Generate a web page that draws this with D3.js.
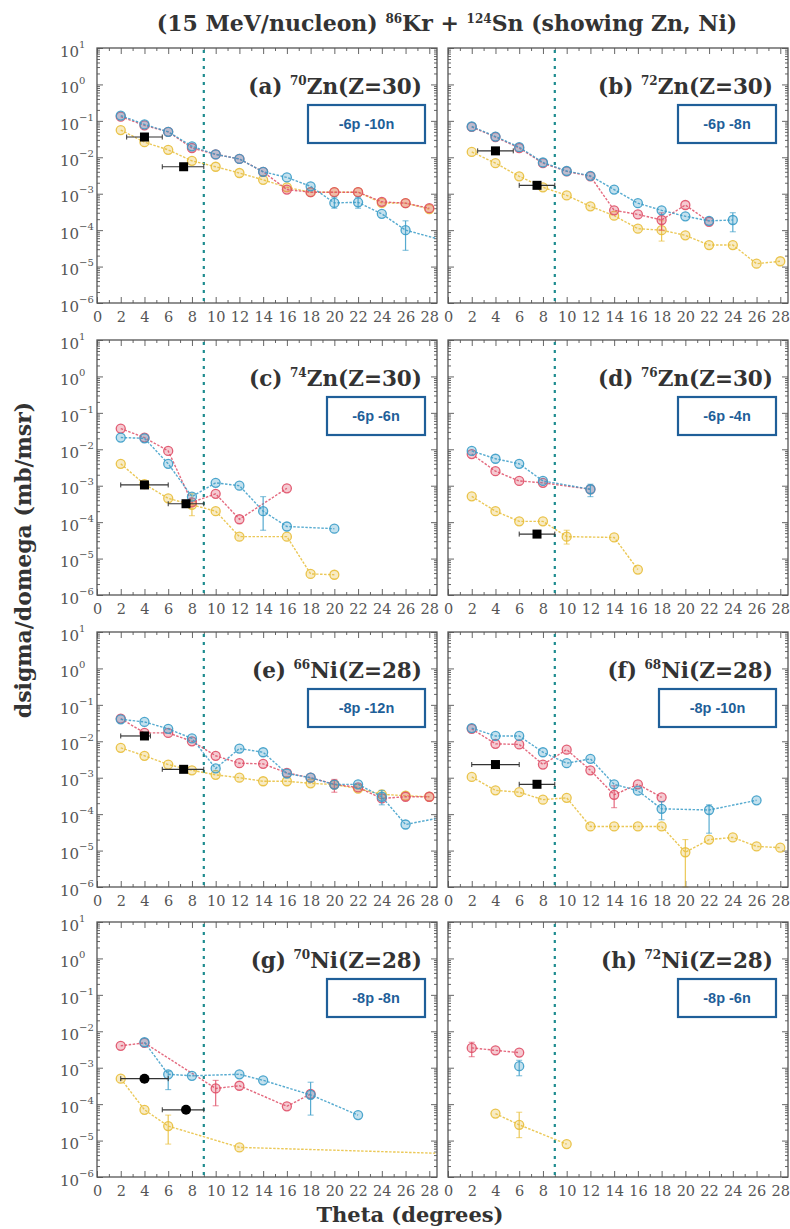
<!DOCTYPE html>
<html><head><meta charset="utf-8">
<script src="https://cdn.jsdelivr.net/npm/d3@7"></script>
<style>body{margin:0;background:#fff}svg{display:block}</style>
</head><body><svg id="chart" width="790" height="1229"></svg>
<script>
// ---------------- data ----------------
const panelLetters = ["a","b","c","d","e","f","g","h"];
const massNumbers = ["70","72","74","76","66","68","70","72"];
const elements = ["Zn","Zn","Zn","Zn","Ni","Ni","Ni","Ni"];
const charges = [30,30,30,30,28,28,28,28];
const reactionLabels = ["-6p -10n","-6p -8n","-6p -6n","-6p -4n","-8p -12n","-8p -10n","-8p -8n","-8p -6n"];
const xTickValues = [0,2,4,6,8,10,12,14,16,18,20,22,24,26,28];
const yTickExponents = [1,0,-1,-2,-3,-4,-5,-6];
const gratingAngle = 9;

// [theta, dsigma/domega]
const redA = [[2,0.13],[4,0.075],[6,0.05],[8,0.018],[10,0.012],[12,0.009],[14,0.004],[16,0.0013],[18,0.0011],[20,0.0011],[22,0.0011],[24,6e-4],[26,5.5e-4],[28,4e-4]];
const blueA = [[2,0.14],[4,0.08],[6,0.05],[8,0.02],[10,0.012],[12,0.009],[14,0.004],[16,0.0028],[18,0.0016],[20,5.6e-4],[22,5.8e-4],[24,2.8e-4],[26,1e-4],[28.5,6e-5]];
const yellowA = [[2,0.056],[4,0.026],[6,0.016],[8,0.008],[10,0.0055],[12,0.0037],[14,0.0024],[16,0.0015],[18,0.0011],[20,0.0011],[22,0.0011],[24,5.6e-4],[26,5.5e-4],[28,3.8e-4]];
const expA = [[4,0.036,2.5,5.5],[7.3,0.0055,5.5,9]];
const errA = [["blue",26,2.8e-5,1.8e-4],["blue",20,4e-4,8e-4],["blue",22,4e-4,8e-4]];

const redB = [[2,0.068],[4,0.036],[6,0.018],[8,0.0069],[10,0.0041],[12,0.003],[14,3.5e-4],[16,2.7e-4],[18,1.9e-4],[20,4.9e-4],[22,1.7e-4]];
const blueB = [[2,0.07],[4,0.037],[6,0.019],[8,0.0072],[10,0.0042],[12,0.0031],[14,0.0013],[16,5.5e-4],[18,3.5e-4],[20,2.4e-4],[22,1.8e-4],[24,1.9e-4]];
const yellowB = [[2,0.014],[4,0.0069],[6,0.003],[8,0.0015],[10,9e-4],[12,4.5e-4],[14,2.5e-4],[16,1.1e-4],[18,1e-4],[20,7.2e-5],[22,3.9e-5],[24,3.9e-5],[26,1.2e-5],[28,1.4e-5]];
const expB = [[4,0.015,2.5,5.5],[7.5,0.0017,6,9]];
const errB = [["blue",24,9e-5,3e-4],["red",18,1e-4,3e-4],["yellow",18,5e-5,1.8e-4]];

const redC = [[2,0.037],[4,0.021],[6,0.009],[8,3.5e-4],[10,6e-4],[12,1.2e-4],[16,8.5e-4]];
const blueC = [[2,0.021],[4,0.02],[6,0.004],[8,5e-4],[10,1.2e-3],[12,1e-3],[14,2e-4],[16,7.6e-5],[20,6.6e-5]];
const yellowC = [[2,0.004],[4,0.0011],[6,4.5e-4],[8,3e-4],[10,2e-4],[12,4e-5],[16,4e-5],[18,3.8e-6],[20,3.6e-6]];
const expC = [[4,1.05e-3,2,6],[7.5,3.2e-4,6,9]];
const errC = [["blue",14,6e-5,5e-4],["yellow",8,1.5e-4,6e-4]];

const redD = [[2,0.0074],[4,0.0025],[6,0.00135],[8,0.0012],[12,8e-4]];
const blueD = [[2,0.009],[4,0.0055],[6,0.004],[8,0.00135],[12,8e-4]];
const yellowD = [[2,5.1e-4],[4,2e-4],[6,1.05e-4],[8,1.05e-4],[10,4e-5],[14,3.8e-5],[16,5e-6]];
const expD = [[7.5,4.7e-5,6,9]];
const errD = [["blue",12,5e-4,1.1e-3],["yellow",10,2.5e-5,6e-5]];

const redE = [[2,0.042],[4,0.017],[6,0.017],[8,0.01],[10,0.004],[12,0.0025],[14,0.0024],[16,0.00135],[18,0.001],[20,6.6e-4],[22,5.4e-4],[24,2.7e-4],[26,3e-4],[28,3e-4]];
const blueE = [[2,0.04],[4,0.034],[6,0.022],[8,0.012],[10,0.0018],[12,0.0063],[14,0.005],[16,0.0013],[18,0.001],[20,6.5e-4],[22,6.6e-4],[24,3e-4],[26,5.2e-5],[28.5,7.5e-5]];
const yellowE = [[2,0.0066],[4,0.004],[6,0.0023],[8,0.0016],[10,0.0012],[12,0.001],[14,8e-4],[16,8e-4],[18,7e-4],[20,6.5e-4],[22,5e-4],[24,3.5e-4],[26,3.2e-4],[28,3e-4]];
const expE = [[4,0.014,2,4.5],[7.3,0.0017,5.5,9]];
const errE = [["blue",24,1.8e-4,4.5e-4],["red",20,4e-4,9e-4]];

const redF = [[2,0.022],[4,0.0085],[6,0.0082],[8,0.0023],[10,0.0059],[12,0.0016],[14,3.4e-4],[16,6.6e-4],[18,2.9e-4]];
const blueF = [[2,0.023],[4,0.014],[6,0.014],[8,0.005],[10,0.0025],[12,0.0033],[14,6.6e-4],[16,4.4e-4],[18,1.4e-4],[22,1.3e-4],[26,2.4e-4]];
const yellowF = [[2,1.05e-3],[4,4.5e-4],[6,4e-4],[8,2.5e-4],[10,2.8e-4],[12,4.6e-5],[14,4.6e-5],[16,4.6e-5],[18,4.6e-5],[20,9e-6],[22,2e-5],[24,2.3e-5],[26,1.3e-5],[28,1.2e-5]];
const expF = [[4,0.0023,2,6],[7.5,6.6e-4,6,9]];
const errF = [["blue",22,3e-5,1.8e-4],["red",14,1.5e-4,6e-4],["yellow",20,1e-6,2e-5],["blue",18,7e-5,2.2e-4]];

const redG = [[2,0.004],[4,0.0048],[10,2.7e-4],[12,3.2e-4],[16,8.7e-5],[18,1.9e-4]];
const blueG = [[4,0.005],[6,6.6e-4],[8,6e-4],[12,6.6e-4],[14,4.5e-4],[18,1.8e-4],[22,5e-5]];
const yellowG = [[2,5e-4],[4,7e-5],[6,2.5e-5],[12,6.5e-6],[28.5,4.5e-6]];
const expG = [[4,5e-4,2,6],[7.5,7e-5,5.5,9]];
const errG = [["red",10,9e-5,4.5e-4],["blue",18,5e-5,4e-4],["yellow",6,8e-6,5e-5],["blue",6,2.5e-4,8e-4]];

const redH = [[2,0.0035],[4,0.003],[6,0.0026]];
const blueH = [[6,0.0011]];
const yellowH = [[4,5.5e-5],[6,2.7e-5],[10,8e-6]];
const expH = [];
const errH = [["blue",6,6e-4,1.6e-3],["yellow",6,1.2e-5,6e-5],["red",2,2e-3,5e-3]];

const panelData = [
  {red:redA, blue:blueA, yellow:yellowA, exp:expA, err:errA},
  {red:redB, blue:blueB, yellow:yellowB, exp:expB, err:errB},
  {red:redC, blue:blueC, yellow:yellowC, exp:expC, err:errC},
  {red:redD, blue:blueD, yellow:yellowD, exp:expD, err:errD},
  {red:redE, blue:blueE, yellow:yellowE, exp:expE, err:errE},
  {red:redF, blue:blueF, yellow:yellowF, exp:expF, err:errF},
  {red:redG, blue:blueG, yellow:yellowG, exp:expG, err:errG},
  {red:redH, blue:blueH, yellow:yellowH, exp:expH, err:errH}
];

// ---------------- layout ----------------
const colX = [97, 448];
const rowY = [48, 340, 632, 922];
const W = 340, H = 255;
const boxWidths = [117, 98, 98, 98, 117, 117, 98, 98];
const colors = {red:"#df4f67", blue:"#3a9cc8", yellow:"#e8be3a"};
const serif = "'DejaVu Serif', 'Liberation Serif', serif";

const svg = d3.select("#chart");

svg.append("text").attr("x", 447).attr("y", 31).attr("text-anchor","middle")
  .attr("font-family", serif).attr("font-weight","bold").attr("font-size", 22).attr("fill","#333")
  .call(t => {
    t.append("tspan").text("(15 MeV/nucleon) ");
    t.append("tspan").attr("font-size", 12).attr("dy", -8).text("86");
    t.append("tspan").attr("dy", 8).text("Kr + ");
    t.append("tspan").attr("font-size", 12).attr("dy", -8).text("124");
    t.append("tspan").attr("dy", 8).text("Sn (showing Zn, Ni)");
  });

svg.append("text").attr("transform","translate(31,560) rotate(-90)").attr("text-anchor","middle")
  .attr("font-family", serif).attr("font-weight","bold").attr("font-size", 22).attr("fill","#333")
  .text("dsigma/domega (mb/msr)");

svg.append("text").attr("x", 410).attr("y", 1222).attr("text-anchor","middle")
  .attr("font-family", serif).attr("font-weight","bold").attr("font-size", 21).attr("fill","#333")
  .text("Theta (degrees)");

const minorY = [];
for (let e = -6; e < 1; e++) for (let k = 2; k < 10; k++) minorY.push(k * Math.pow(10, e));
const minorX = d3.range(1, 29, 2);

panelData.forEach((pd, i) => {
  const col = i % 2, row = Math.floor(i / 2);
  const g = svg.append("g").attr("transform", `translate(${colX[col]},${rowY[row]})`);
  const x = d3.scaleLinear().domain([0, 28.65]).range([0, W]);
  const y = d3.scaleLog().domain([1e-6, 10]).range([H, 0]);

  g.append("rect").attr("width", W).attr("height", H).attr("fill", "#fff");

  // axes
  const styleAxis = sel => { sel.select(".domain").remove(); sel.selectAll("line").attr("stroke", "#666"); };
  g.append("g").attr("transform", `translate(0,${H})`)
    .call(d3.axisBottom(x).tickValues(xTickValues).tickSize(-6).tickPadding(9).tickFormat(d3.format("d")))
    .call(styleAxis)
    .call(s => s.selectAll("text").attr("font-family", serif).attr("font-size", 14.5).attr("fill", "#555"));
  g.append("g").attr("transform", `translate(0,${H})`)
    .call(d3.axisBottom(x).tickValues(minorX).tickSize(-3).tickFormat("")).call(styleAxis);
  g.append("g").call(d3.axisTop(x).tickValues(xTickValues).tickSize(-6).tickFormat("")).call(styleAxis);
  g.append("g").call(d3.axisTop(x).tickValues(minorX).tickSize(-3).tickFormat("")).call(styleAxis);

  const decades = yTickExponents.map(e => Math.pow(10, e));
  const left = g.append("g")
    .call(d3.axisLeft(y).tickValues(decades).tickSize(-6).tickPadding(9).tickFormat(col === 0 ? () => "10" : () => ""))
    .call(styleAxis);
  if (col === 0) {
    left.selectAll("text").attr("font-family", serif).attr("font-size", 15).attr("fill", "#555")
      .attr("dy", "0.55em").attr("text-anchor", "start").attr("x", -37)
      .each(function(d) {
        const ex = Math.round(Math.log10(d));
        d3.select(this).append("tspan").attr("font-size", 10).attr("dy", "-0.9em")
          .text(ex < 0 ? "\u2212" + (-ex) : String(ex));
      });
  }
  g.append("g").call(d3.axisLeft(y).tickValues(minorY).tickSize(-3).tickFormat("")).call(styleAxis);
  g.append("g").attr("transform", `translate(${W},0)`)
    .call(d3.axisRight(y).tickValues(decades).tickSize(-6).tickFormat("")).call(styleAxis);
  g.append("g").attr("transform", `translate(${W},0)`)
    .call(d3.axisRight(y).tickValues(minorY).tickSize(-3).tickFormat("")).call(styleAxis);

  // vertical dashed line
  g.append("line").attr("x1", x(gratingAngle)).attr("x2", x(gratingAngle)).attr("y1", 2).attr("y2", H - 2)
    .attr("stroke", "#1e8c8f").attr("stroke-width", 2.2).attr("stroke-dasharray", "3,5");

  // series
  const line = d3.line().x(d => x(d[0])).y(d => y(d[1]));
  ["yellow", "red", "blue"].forEach(key => {
    const data = pd[key];
    const c = colors[key];
    g.append("path").datum(data).attr("d", line).attr("fill", "none")
      .attr("stroke", c).attr("stroke-width", 1.4).attr("stroke-dasharray", "2.5,1.5").attr("stroke-opacity", 0.85);
    pd.err.filter(e => e[0] === key).forEach(e => {
      g.append("line").attr("x1", x(e[1])).attr("x2", x(e[1])).attr("y1", y(e[2])).attr("y2", y(e[3]))
        .attr("stroke", c).attr("stroke-width", 1.2).attr("stroke-opacity", 0.85);
      [e[2], e[3]].forEach(v => g.append("line").attr("x1", x(e[1]) - 3).attr("x2", x(e[1]) + 3)
        .attr("y1", y(v)).attr("y2", y(v)).attr("stroke", c).attr("stroke-width", 1).attr("stroke-opacity", 0.7));
    });
    g.selectAll(null).data(data.filter(d => d[0] <= 28)).enter().append("circle")
      .attr("cx", d => x(d[0])).attr("cy", d => y(d[1])).attr("r", 4.5)
      .attr("fill", c).attr("fill-opacity", 0.3).attr("stroke", c).attr("stroke-width", 1.3).attr("stroke-opacity", 0.9);
  });

  // experimental points
  pd.exp.forEach(d => {
    g.append("line").attr("x1", x(d[2])).attr("x2", x(d[3])).attr("y1", y(d[1])).attr("y2", y(d[1]))
      .attr("stroke", "#333").attr("stroke-width", 1.2);
    [d[2], d[3]].forEach(v => g.append("line").attr("x1", x(v)).attr("x2", x(v))
      .attr("y1", y(d[1]) - 2.5).attr("y2", y(d[1]) + 2.5).attr("stroke", "#333").attr("stroke-width", 1));
    if (i === 6) {
      g.append("circle").attr("cx", x(d[0])).attr("cy", y(d[1])).attr("r", 5).attr("fill", "#000");
    } else {
      g.append("rect").attr("x", x(d[0]) - 4.5).attr("y", y(d[1]) - 4.5).attr("width", 9).attr("height", 9).attr("fill", "#000");
    }
  });

  // frame
  g.append("rect").attr("width", W).attr("height", H).attr("fill", "none").attr("stroke", "#555").attr("stroke-width", 1.3);

  // panel label
  g.append("text").attr("x", 325).attr("y", 46).attr("text-anchor", "end")
    .attr("font-family", serif).attr("font-weight", "bold").attr("font-size", 21.5).attr("fill", "#333")
    .call(t => {
      t.append("tspan").text(`(${panelLetters[i]}) `);
      t.append("tspan").attr("font-size", 12).attr("dy", -9).text(massNumbers[i]);
      t.append("tspan").attr("dy", 9).text(`${elements[i]}(Z=${charges[i]})`);
    });

  // reaction box
  const bw = boxWidths[i];
  const bx = W - 12 - bw, by = 57;
  g.append("rect").attr("x", bx).attr("y", by).attr("width", bw).attr("height", 38)
    .attr("fill", "#fff").attr("stroke", "#1f5f99").attr("stroke-width", 2.2);
  g.append("text").attr("x", bx + bw / 2).attr("y", by + 24).attr("text-anchor", "middle")
    .attr("font-family", "'Liberation Sans', Arial, sans-serif").attr("font-weight", "bold").attr("font-size", 14.5)
    .attr("fill", "#1f5f99").text(reactionLabels[i]);
});
</script>
</body></html>
